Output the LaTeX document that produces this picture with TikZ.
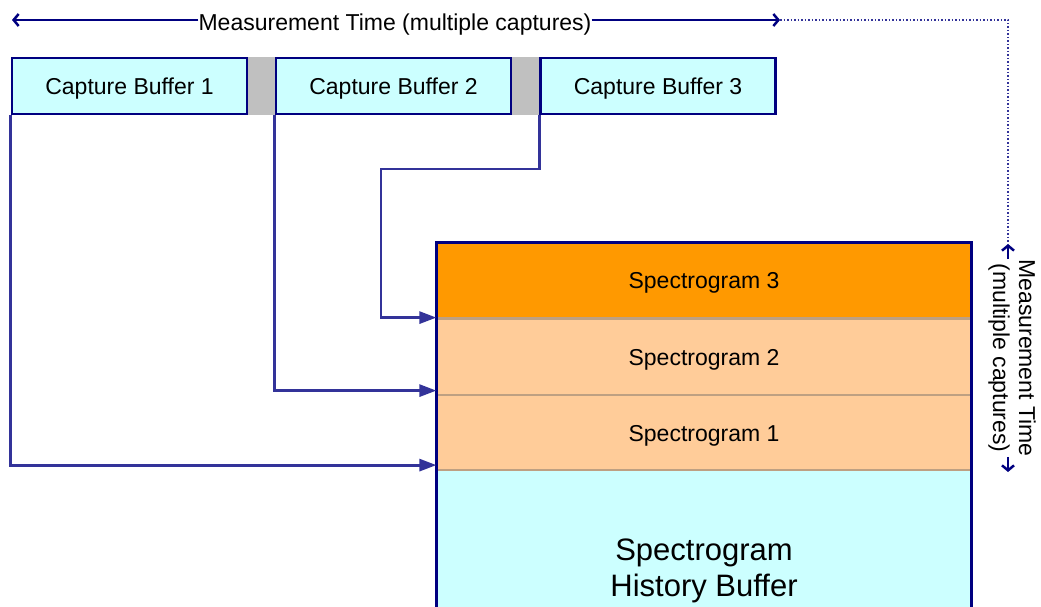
\documentclass[tikz,border=0pt]{standalone}
\usepackage{fontspec}
\setmainfont{Liberation Sans}
\usetikzlibrary{arrows.meta,backgrounds}

\definecolor{navyline}{RGB}{0,0,128}
\definecolor{connblue}{RGB}{51,51,153}
\definecolor{cyanfill}{RGB}{204,255,255}
\definecolor{orangefill}{RGB}{255,153,0}
\definecolor{peachfill}{RGB}{255,204,153}
\definecolor{gapgray}{RGB}{192,192,192}
\definecolor{sepline}{RGB}{190,160,130}

\begin{document}
\begin{tikzpicture}[x=1pt,y=-1pt]
  \tikzset{buffer/.style = {draw=navyline, line width=2.6pt, fill=cyanfill, minimum width=235pt, minimum height=56pt, inner sep=0pt, text depth=0pt, font=\fontsize{23}{27}\selectfont}} % capture buffers
  \tikzset{spec/.style = {draw=sepline, line width=1.2pt, minimum width=534pt, inner sep=0pt, text depth=0pt, align=center, font=\fontsize{23}{27}\selectfont}}
  \tikzset{conn/.style = {draw=connblue, line width=2.8pt, -{Triangle[length=17pt,width=12pt]}}}
  \tikzset{mtarrow/.style = {draw=navyline, line width=2.5pt, -{Straight Barb[length=5pt,width=12pt]}}}
  \tikzset{dotline/.style = {draw=connblue, line width=1.5pt, dotted}}
  \useasboundingbox (0,0) rectangle (1041,607);

  % capture buffers
  \node[buffer] (cb1) at (129.5,86) {Capture Buffer 1};
  \node[buffer] (cb2) at (393.5,86) {Capture Buffer 2};
  \node[buffer] (cb3) at (658,86) {Capture Buffer 3};
  \begin{scope}[on background layer]
    \fill[gapgray] (cb1.north east) rectangle (cb2.south west);
    \fill[gapgray] (cb2.north east) rectangle (cb3.south west);
  \end{scope}

  % spectrogram history buffer
  \node[spec, fill=orangefill, minimum height=75pt] (sg3) at (704,280.5) {Spectrogram 3};
  \node[spec, fill=peachfill, minimum height=76pt] (sg2) at (704,357) {Spectrogram 2};
  \node[spec, fill=peachfill, minimum height=75pt] (sg1) at (704,433) {Spectrogram 1};
  \node[spec, fill=cyanfill, minimum height=196pt, font=\fontsize{31}{36}\selectfont] (hist) at (704,568) {Spectrogram\\History Buffer};
  \draw[navyline, line width=3pt] (sg3.north west) rectangle (hist.south east);

  % measurement time
  \node[inner sep=0pt, text depth=0pt, font=\fontsize{23}{27}\selectfont] (mth) at (395,22) {Measurement Time (multiple captures)};
  \coordinate (mtl) at (12,20);
  \coordinate (mtr) at (780,20);
  \draw[mtarrow] (mth.west |- mtl) -- (mtl);
  \draw[mtarrow] (mth.east |- mtr) -- (mtr);
  \node[inner sep=0pt, rotate=-90, align=center, font=\fontsize{23}{26}\selectfont] (mtv) at (1012,358) {Measurement Time\\(multiple captures)};
  \coordinate (vtop) at (1008,244);
  \coordinate (vbot) at (1008,472);
  \draw[mtarrow] (vtop |- mtv.west) -- (vtop);
  \draw[mtarrow] (vbot |- mtv.east) -- (vbot);
  \draw[dotline] (mtr) -| (vtop);

  % connectors
  \coordinate (bend3) at (381,169);
  \draw[conn] (cb1.south west) |- ([yshift=6pt]sg1.south west);
  \draw[conn] (cb2.south west) |- ([yshift=5pt]sg2.south west);
  \draw[conn] (cb3.south west) |- (bend3) |- ([yshift=1pt]sg3.south west);

\end{tikzpicture}
\end{document}
